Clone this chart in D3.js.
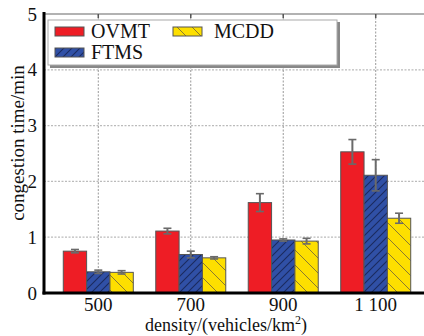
<!DOCTYPE html>
<html>
<head>
<meta charset="utf-8">
<script src="https://cdn.jsdelivr.net/npm/d3@7"></script>
<style>
  body { margin: 0; background: #fff; }
  svg text { font-family: "Liberation Serif", "DejaVu Serif", serif; }
</style>
</head>
<body>
<div id="main"></div>
<script>
// Data
const densities = ['500', '700', '900', '1 100'];
const seriesNames = ['OVMT', 'FTMS', 'MCDD'];
const ovmt = [0.75, 1.11, 1.62, 2.53];
const ftms = [0.38, 0.69, 0.95, 2.11];
const mcdd = [0.37, 0.63, 0.93, 1.34];
const ovmtErr = [0.03, 0.05, 0.16, 0.22];
const ftmsErr = [0.03, 0.06, 0.02, 0.28];
const mcddErr = [0.03, 0.02, 0.05, 0.09];
const yTicks = [0, 1, 2, 3, 4, 5];

const values = [ovmt, ftms, mcdd];
const errors = [ovmtErr, ftmsErr, mcddErr];
const serif = '"Liberation Serif", "DejaVu Serif", serif';

// dimensions
const w = 424, h = 336;
const padLeft = 44, padTop = 14, plotBottom = 293, plotRight = 430;

const svg = d3.select('#main')
  .append('svg')
  .attr('width', w)
  .attr('height', h)
  .attr('font-family', serif);

// hatch patterns
const defs = svg.append('defs');
defs.append('pattern')
  .attr('id', 'hatchBlue')
  .attr('patternUnits', 'userSpaceOnUse')
  .attr('width', 8).attr('height', 8)
  .html('<rect width="8" height="8" fill="#3050a6"/><path d="M-2,2 l4,-4 M0,8 l8,-8 M6,10 l4,-4" stroke="#1a2a5e" stroke-width="1.1"/>');
defs.append('pattern')
  .attr('id', 'hatchYellow')
  .attr('patternUnits', 'userSpaceOnUse')
  .attr('width', 15).attr('height', 15)
  .html('<rect width="15" height="15" fill="#fddf00"/><path d="M-4,-4 l23,23 M-4,11 l8,8 M11,-4 l8,8" stroke="#8a7a30" stroke-width="1"/>');
const patternFill = ['#ee1d25', 'url(#hatchBlue)', 'url(#hatchYellow)'];

// scales
const y = d3.scaleLinear().domain([0, 5]).range([plotBottom, padTop]);
const x = d3.scaleBand().domain(densities).range([padLeft, plotRight]).paddingInner(0).paddingOuter(0.087);
const xs = d3.scaleBand().domain(seriesNames).range([-35, 35]);
const cx0 = (d) => x(d) + x.bandwidth() / 2;

// grid lines
svg.append('g')
  .selectAll('line')
  .data(yTicks.filter((d) => d > 0 && d < 5))
  .enter()
  .append('line')
  .attr('x1', padLeft).attr('x2', w)
  .attr('y1', (d) => y(d)).attr('y2', (d) => y(d))
  .attr('stroke', '#bbb')
  .attr('stroke-width', 1.2)
  .attr('stroke-dasharray', '2,1.5');

svg.append('g')
  .selectAll('line')
  .data(densities)
  .enter()
  .append('line')
  .attr('x1', cx0).attr('x2', cx0)
  .attr('y1', padTop).attr('y2', plotBottom)
  .attr('stroke', '#999')
  .attr('stroke-width', 1)
  .attr('stroke-dasharray', '2,1.5');

// top frame line with ticks
svg.append('line')
  .attr('x1', padLeft).attr('x2', w)
  .attr('y1', padTop).attr('y2', padTop)
  .attr('stroke', '#999').attr('stroke-width', 1.5);
svg.append('g')
  .selectAll('line')
  .data(densities)
  .enter()
  .append('line')
  .attr('x1', cx0).attr('x2', cx0)
  .attr('y1', padTop).attr('y2', padTop + 4)
  .attr('stroke', '#555').attr('stroke-width', 1.5);

// bars
seriesNames.forEach((s, i) => {
  const g = svg.append('g');
  g.selectAll('rect')
    .data(densities)
    .enter()
    .append('rect')
    .attr('x', (d) => cx0(d) + xs(s))
    .attr('y', (d, j) => y(values[i][j]))
    .attr('width', xs.bandwidth())
    .attr('height', (d, j) => plotBottom - y(values[i][j]))
    .attr('fill', patternFill[i])
    .attr('stroke', '#555')
    .attr('stroke-width', 1);

  // error bars
  densities.forEach((d, j) => {
    const cx = cx0(d) + xs(s) + xs.bandwidth() / 2;
    const v = values[i][j], e = errors[i][j];
    g.append('line')
      .attr('x1', cx).attr('x2', cx)
      .attr('y1', y(v + e)).attr('y2', y(v - e))
      .attr('stroke', '#6a6a6a').attr('stroke-width', 2);
    [v + e, v - e].forEach((t) => {
      g.append('line')
        .attr('x1', cx - 4).attr('x2', cx + 4)
        .attr('y1', y(t)).attr('y2', y(t))
        .attr('stroke', '#6a6a6a').attr('stroke-width', 1.6);
    });
  });
});

// axes
const yAxis = d3.axisLeft(y).tickValues(yTicks).tickSize(0).tickPadding(7).tickFormat(d3.format('d'));
svg.append('g')
  .attr('transform', `translate(${padLeft}, 0)`)
  .call(yAxis)
  .attr('font-family', serif)
  .call((g) => g.select('.domain').remove())
  .selectAll('text')
  .attr('font-size', 19)
  .attr('fill', '#111');

const xAxis = d3.axisBottom(x).tickSize(0).tickPadding(5);
svg.append('g')
  .attr('transform', `translate(0, ${plotBottom})`)
  .call(xAxis)
  .attr('font-family', serif)
  .call((g) => g.select('.domain').remove())
  .selectAll('text')
  .attr('font-size', 19)
  .attr('fill', '#111');

svg.append('line')
  .attr('x1', padLeft).attr('x2', padLeft)
  .attr('y1', padTop - 2).attr('y2', plotBottom + 1.5)
  .attr('stroke', '#000').attr('stroke-width', 3);
svg.append('line')
  .attr('x1', padLeft - 1.5).attr('x2', w)
  .attr('y1', plotBottom).attr('y2', plotBottom)
  .attr('stroke', '#000').attr('stroke-width', 3);

// axis titles
svg.append('text')
  .attr('x', 226).attr('y', 331)
  .attr('text-anchor', 'middle')
  .attr('font-size', 18)
  .attr('fill', '#111')
  .html('density/(vehicles/km<tspan dy="-7" font-size="12">2</tspan><tspan dy="7">)</tspan>');

svg.append('text')
  .attr('transform', 'translate(24, 143) rotate(-90)')
  .attr('text-anchor', 'middle')
  .attr('font-size', 19)
  .attr('fill', '#111')
  .text('congestion time/min');

// legend
const lg = svg.append('g');
lg.append('rect')
  .attr('x', 50).attr('y', 22).attr('width', 290).attr('height', 46)
  .attr('fill', '#888');
lg.append('rect')
  .attr('x', 48).attr('y', 20).attr('width', 289).attr('height', 45)
  .attr('fill', '#fff').attr('stroke', '#aaa').attr('stroke-width', 1);

const legendPos = [[55, 27, 91], [55, 48, 91], [173, 27, 214]];
seriesNames.forEach((s, i) => {
  lg.append('rect')
    .attr('x', legendPos[i][0]).attr('y', legendPos[i][1])
    .attr('width', 29).attr('height', 9)
    .attr('fill', patternFill[i])
    .attr('stroke', '#555').attr('stroke-width', 1);
  lg.append('text')
    .attr('x', legendPos[i][2]).attr('y', legendPos[i][1] + 11)
    .attr('font-size', 20)
    .attr('fill', '#111')
    .text(s);
});
</script>
</body>
</html>
